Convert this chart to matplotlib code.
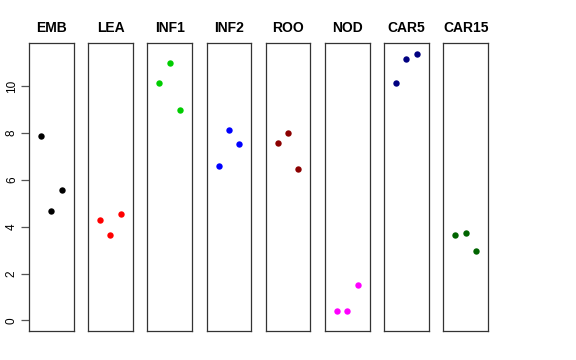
import numpy as np
import matplotlib
matplotlib.use("Agg")
import matplotlib.pyplot as plt

plt.rcParams["font.family"] = ["Liberation Sans", "DejaVu Sans"]

tissues = ["EMB", "LEA", "INF1", "INF2", "ROO", "NOD", "CAR5", "CAR15"]
colors = ["black", "red", "#00CD00", "blue", "#8B0000", "magenta", "#000080", "#006400"]
values = [
    [7.88, 4.66, 5.55],
    [4.27, 3.63, 4.56],
    [10.14, 10.97, 8.99],
    [6.58, 8.12, 7.52],
    [7.58, 8.02, 6.45],
    [0.38, 0.38, 1.50],
    [10.14, 11.15, 11.39],
    [3.65, 3.73, 2.96],
]
yticks = [0, 2, 4, 6, 8, 10]

W, H = 576, 360
fig = plt.figure(figsize=(W / 100, H / 100), dpi=100)

left0 = 29
pw = 44.5
step = 59.2
top = 43
bottom = 331

ymax = max(max(v) for v in values)
ylim = (-0.04 * ymax, ymax * 1.04)

for i, (name, col, vals) in enumerate(zip(tissues, colors, values)):
    x0 = left0 + i * step
    ax = fig.add_axes([x0 / W, 1 - bottom / H, pw / W, (bottom - top) / H])
    xs = np.arange(1, len(vals) + 1)
    ax.plot(xs, vals, "o", color=col, markersize=4.6, markeredgewidth=0)
    ax.set_xlim(-0.16, 4.16)
    ax.set_ylim(*ylim)
    ax.set_xticks([])
    for s in ax.spines.values():
        s.set_linewidth(0.9)
        s.set_color("#333333")
    ax.set_title(name, fontsize=10, fontweight="bold", pad=8)
    if i == 0:
        ax.set_yticks(yticks)
        ax.set_yticklabels([str(t) for t in yticks], rotation=90, va="center", fontsize=8.5)
        ax.tick_params(axis="y", length=6, width=0.9, color="#555555", pad=2)
    else:
        ax.set_yticks([])

fig.savefig("out.png", dpi=100)
